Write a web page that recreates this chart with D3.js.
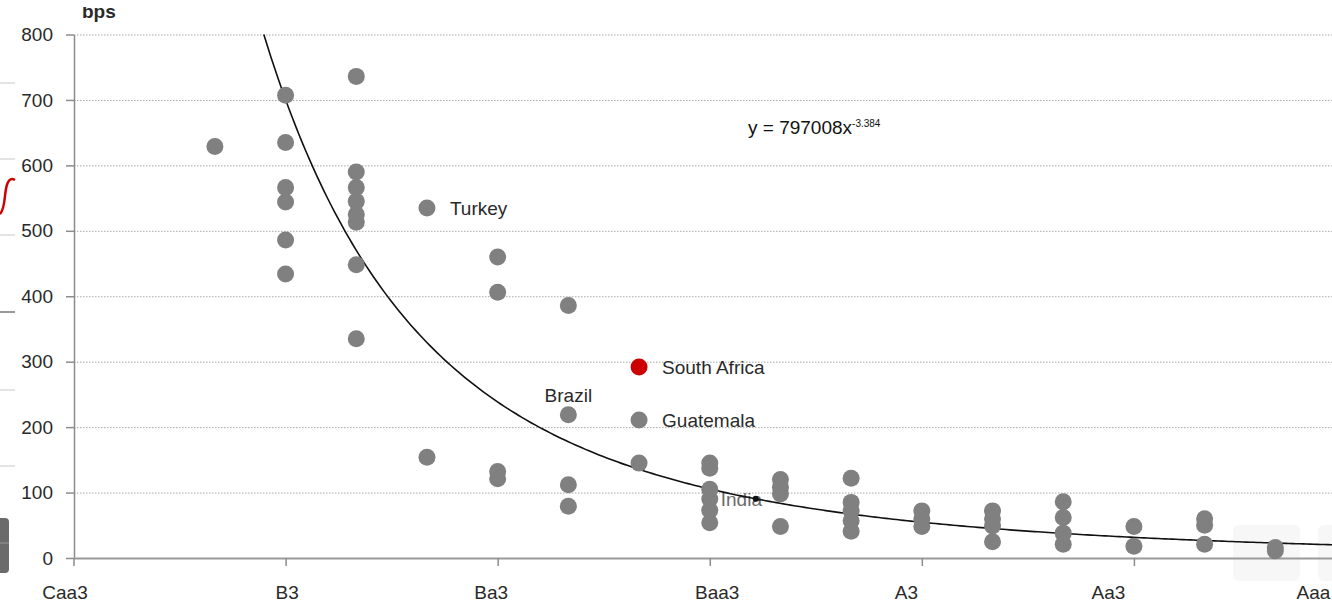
<!DOCTYPE html>
<html>
<head>
<meta charset="utf-8">
<script src="https://cdn.jsdelivr.net/npm/d3@7"></script>
<style>
  body { margin: 0; background: #fff; }
  svg { display: block; font-family: "Liberation Sans", Arial, sans-serif; }
</style>
</head>
<body>
<div id="container"></div>
<script>
// rating notches, lowest first (notch number = index + 5)
var ratings = ["Caa3","Caa2","Caa1","B3","B2","B1","Ba3","Ba2","Ba1",
               "Baa3","Baa2","Baa1","A3","A2","A1","Aa3","Aa2","Aa1","Aaa"];
var labelledRatings = ["Caa3","B3","Ba3","Baa3","A3","Aa3","Aaa"];

// one entry per country: rating and spread (bps)
var pointRating = [
  "Caa1",
  "B3","B3","B3","B3","B3","B3",
  "B2","B2","B2","B2","B2","B2","B2","B2",
  "B1","B1",
  "Ba3","Ba3","Ba3","Ba3",
  "Ba2","Ba2","Ba2","Ba2",
  "Ba1","Ba1","Ba1",
  "Baa3","Baa3","Baa3","Baa3","Baa3","Baa3",
  "Baa2","Baa2","Baa2","Baa2",
  "Baa1","Baa1","Baa1","Baa1","Baa1",
  "A3","A3","A3",
  "A2","A2","A2","A2",
  "A1","A1","A1","A1",
  "Aa3","Aa3",
  "Aa2","Aa2","Aa2",
  "Aa1","Aa1"
];
var pointSpread = [
  629,
  707, 635, 566, 544, 486, 434,
  736, 590, 566, 545, 525, 513, 448, 335,
  535, 154,
  460, 406, 132, 121,
  386, 219, 112, 79,
  292, 211, 145,
  145, 137, 105, 90, 73, 54,
  120, 108, 98, 48,
  122, 85, 72, 57, 41,
  72, 60, 48,
  72, 60, 49, 25,
  86, 62, 38, 21,
  48, 18,
  60, 50, 21,
  16, 11
];
var pointName = [];
pointName[15] = "Turkey";
pointName[22] = "Brazil";
pointName[25] = "South Africa";
pointName[26] = "Guatemala";
pointName[31] = "India";
var highlighted = ["South Africa"];

// power trend fitted on notch number
var fitA = 797008;
var fitB = -3.384;
var yTicks = [0, 100, 200, 300, 400, 500, 600, 700, 800];

var width = 1332;
var height = 605;

var svg = d3.select("#container")
            .append("svg")
            .attr("width", width)
            .attr("height", height);

svg.append("rect").attr("width", width).attr("height", height).attr("fill", "#fff");

function notch(r) { return ratings.indexOf(r) + 5; }

var x = d3.scaleLinear()
          .domain([5, 23])
          .range([73.5, 1346]);
var y = d3.scaleLinear()
          .domain([0, 800])
          .range([558, 34.5]);

// faint overlay squares at the bottom right of the screenshot
svg.append("rect").attr("x", 1233).attr("y", 525).attr("width", 67).attr("height", 56)
   .attr("rx", 6).attr("fill", "#f7f7f7");
svg.append("rect").attr("x", 1318).attr("y", 525).attr("width", 30).attr("height", 56)
   .attr("rx", 6).attr("fill", "#f7f7f7");

// bits of the neighbouring chart on the left edge
[83, 159, 235, 390, 466].forEach(function(v) {
  svg.append("line").attr("x1", 0).attr("x2", 15).attr("y1", v).attr("y2", v)
     .attr("stroke", "#c8c8c8").attr("stroke-width", 1);
});
svg.append("line").attr("x1", 0).attr("x2", 15).attr("y1", 312).attr("y2", 312)
   .attr("stroke", "#777").attr("stroke-width", 1.5);
svg.append("path").attr("d", "M15,180 C8,176 6,186 5,196 C4,206 2,212 0,214")
   .attr("fill", "none").attr("stroke", "#cc0000").attr("stroke-width", 2.5);
svg.append("rect").attr("x", -6).attr("y", 518).attr("width", 15).attr("height", 55)
   .attr("rx", 4).attr("fill", "#6b6b6b");
svg.append("line").attr("x1", 0).attr("x2", 9).attr("y1", 543).attr("y2", 543)
   .attr("stroke", "#999").attr("stroke-width", 1);

// gridlines
svg.append("g")
   .attr("class", "grid")
   .attr("transform", "translate(74,0)")
   .call(d3.axisLeft(y).tickValues(yTicks.slice(1)).tickSize(-(width - 74)).tickFormat(""))
   .call(function(g) {
     g.select(".domain").remove();
     g.selectAll("line").attr("stroke", "#a6a6a6").attr("stroke-dasharray", "1.5,1.5");
   });

// y axis
svg.append("g")
   .attr("transform", "translate(74,0)")
   .call(d3.axisLeft(y).tickValues(yTicks).tickSize(8).tickSizeOuter(0).tickPadding(13))
   .call(function(g) {
     g.select(".domain").attr("stroke", "#8c8c8c").attr("stroke-width", 1.5);
     g.selectAll("line").attr("stroke", "#8c8c8c").attr("stroke-width", 1.5);
     g.selectAll("text").attr("font-size", "19px").attr("fill", "#2a2a2a")
      .attr("font-family", "Liberation Sans, Arial, sans-serif");
   });

// x axis
var labelShift = [-9, 1, -7, 7, -16, -26, -33];
svg.append("g")
   .attr("transform", "translate(0," + y(0) + ")")
   .call(d3.axisBottom(x)
           .tickValues(labelledRatings.map(notch))
           .tickFormat(function(d) { return ratings[d - 5]; })
           .tickSize(8).tickSizeOuter(0).tickPadding(20))
   .call(function(g) {
     g.select(".domain").attr("stroke", "#9a9a9a").attr("stroke-width", 2);
     g.selectAll("line").attr("stroke", "#8c8c8c").attr("stroke-width", 1.5);
     g.selectAll("text").attr("font-size", "19px").attr("fill", "#2a2a2a")
      .attr("font-family", "Liberation Sans, Arial, sans-serif")
      .attr("dx", function(d, i) { return labelShift[i]; });
   });

// unit label, its top is cut off in the screenshot
svg.append("text")
   .attr("x", 82).attr("y", 18)
   .attr("font-size", "19px").attr("font-weight", "bold").attr("fill", "#2a2a2a")
   .text("bps");
svg.append("rect").attr("x", 76).attr("y", 0).attr("width", 50).attr("height", 7).attr("fill", "#fff");

// India label sits under the dots
var points = pointSpread.map(function(v, i) {
  return { rating: pointRating[i], spread: v, name: pointName[i] };
});

svg.selectAll(".under-label")
   .data(points.filter(function(d) { return d.name === "India"; }))
   .enter().append("text")
   .attr("x", function(d) { return x(notch(d.rating)) + 11; })
   .attr("y", function(d) { return y(d.spread) + 7; })
   .attr("font-size", "19px").attr("fill", "#6a6a6a")
   .text(function(d) { return d.name; });

// trend line
var xStart = Math.pow(800 / fitA, 1 / fitB);
var curve = d3.range(xStart, 23.01, 0.05).map(function(v) { return [v, fitA * Math.pow(v, fitB)]; });
svg.append("path")
   .datum(curve)
   .attr("fill", "none")
   .attr("stroke", "#111")
   .attr("stroke-width", 1.6)
   .attr("d", d3.line().x(function(d) { return x(d[0]); }).y(function(d) { return y(d[1]); }));

// dots
svg.selectAll(".dot")
   .data(points)
   .enter().append("circle")
   .attr("class", "dot")
   .attr("cx", function(d) { return x(notch(d.rating)); })
   .attr("cy", function(d) { return y(d.spread); })
   .attr("r", 8.5)
   .attr("fill", function(d) { return highlighted.indexOf(d.name) >= 0 ? "#cc0000" : "#808080"; });

// small marker on the trend next to India
var markX = 14.65;
svg.append("circle")
   .attr("cx", x(markX)).attr("cy", y(fitA * Math.pow(markX, fitB)))
   .attr("r", 3).attr("fill", "#111");

// country labels
var side = points.filter(function(d) { return d.name && d.name !== "India" && d.name !== "Brazil"; });
svg.selectAll(".label")
   .data(side)
   .enter().append("text")
   .attr("x", function(d) { return x(notch(d.rating)) + 23; })
   .attr("y", function(d) { return y(d.spread) + 7; })
   .attr("font-size", "19px").attr("fill", "#2a2a2a")
   .text(function(d) { return d.name; });

svg.selectAll(".top-label")
   .data(points.filter(function(d) { return d.name === "Brazil"; }))
   .enter().append("text")
   .attr("x", function(d) { return x(notch(d.rating)); })
   .attr("y", function(d) { return y(d.spread) - 13; })
   .attr("text-anchor", "middle")
   .attr("font-size", "19px").attr("fill", "#2a2a2a")
   .text(function(d) { return d.name; });

// equation
var eq = svg.append("text")
   .attr("x", 748).attr("y", 134)
   .attr("font-size", "19px").attr("fill", "#111")
   .text("y = 797008x");
eq.append("tspan")
   .attr("font-size", "10px").attr("dy", -7)
   .text("-3.384");
</script>
</body>
</html>
